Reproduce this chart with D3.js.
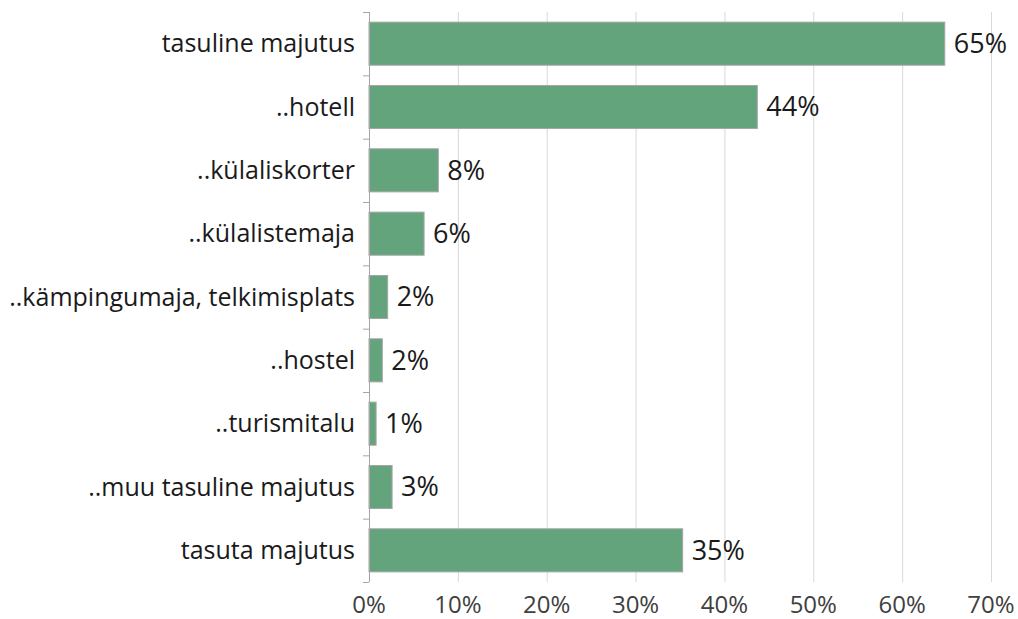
<!DOCTYPE html>
<html><head><meta charset="utf-8">
<script src="https://cdn.jsdelivr.net/npm/d3@7"></script>
<style>body{margin:0;background:#fff}svg{display:block}text{font-family:"Open Sans","Noto Sans",sans-serif;fill:#1a1a1a}</style>
</head><body><svg id="c" width="1018" height="619"></svg>
<script>
const categories = ["tasuline majutus","..hotell","..külaliskorter","..külalistemaja","..kämpingumaja, telkimisplats","..hostel","..turismitalu","..muu tasuline majutus","tasuta majutus"];
const values = [64.8, 43.7, 7.8, 6.2, 2.1, 1.5, 0.8, 2.6, 35.3];
const valueLabels = ["65%","44%","8%","6%","2%","2%","1%","3%","35%"];
const xTicks = [0,10,20,30,40,50,60,70];

const svg = d3.select("#c");
const m = {left:369, right:991, top:12, bottom:582};
const x = d3.scaleLinear().domain([0,70]).range([m.left, m.right]);
const y = d3.scaleBand().domain(categories).range([m.top, m.bottom]).paddingInner(0.32).paddingOuter(0.16);

// gridlines
svg.append("g").selectAll("line").data(xTicks.slice(1)).join("line")
  .attr("x1",d=>x(d)+0.5).attr("x2",d=>x(d)+0.5).attr("y1",m.top).attr("y2",m.bottom)
  .attr("stroke","#d9d9d9").attr("stroke-width",1);

// bars
svg.append("g").selectAll("rect").data(values).join("rect")
  .attr("x",x(0)).attr("y",(d,i)=>y(categories[i]))
  .attr("width",d=>x(d)-x(0)).attr("height",y.bandwidth())
  .attr("fill","#63a47d").attr("stroke","#a6a6a6").attr("stroke-width",1);

// y axis
const band = y.step();
const ya = svg.append("g");
ya.append("line").attr("x1",m.left+0.5).attr("x2",m.left+0.5).attr("y1",m.top).attr("y2",m.bottom).attr("stroke","#a6a6a6");
ya.selectAll("line.t").data(d3.range(categories.length+1)).join("line").attr("class","t")
  .attr("x1",m.left-6).attr("x2",m.left).attr("y1",i=>m.top+i*band+0.5).attr("y2",i=>m.top+i*band+0.5).attr("stroke","#a6a6a6");
ya.selectAll("text").data(categories).join("text")
  .attr("x",m.left-14).attr("y",d=>y(d)+y.bandwidth()/2).attr("dy","0.35em")
  .attr("text-anchor","end").attr("font-size",25).text(d=>d);

// value labels
svg.append("g").selectAll("text").data(values).join("text")
  .attr("x",d=>x(d)+9).attr("y",(d,i)=>y(categories[i])+y.bandwidth()/2).attr("dy","0.35em")
  .attr("font-size",27).text((d,i)=>valueLabels[i]);

// x axis labels
svg.append("g").selectAll("text").data(xTicks).join("text")
  .attr("x",d=>x(d)).attr("y",613).attr("text-anchor","middle")
  .attr("font-size",24).style("fill","#404040").text(d=>d+"%");
</script></body></html>
